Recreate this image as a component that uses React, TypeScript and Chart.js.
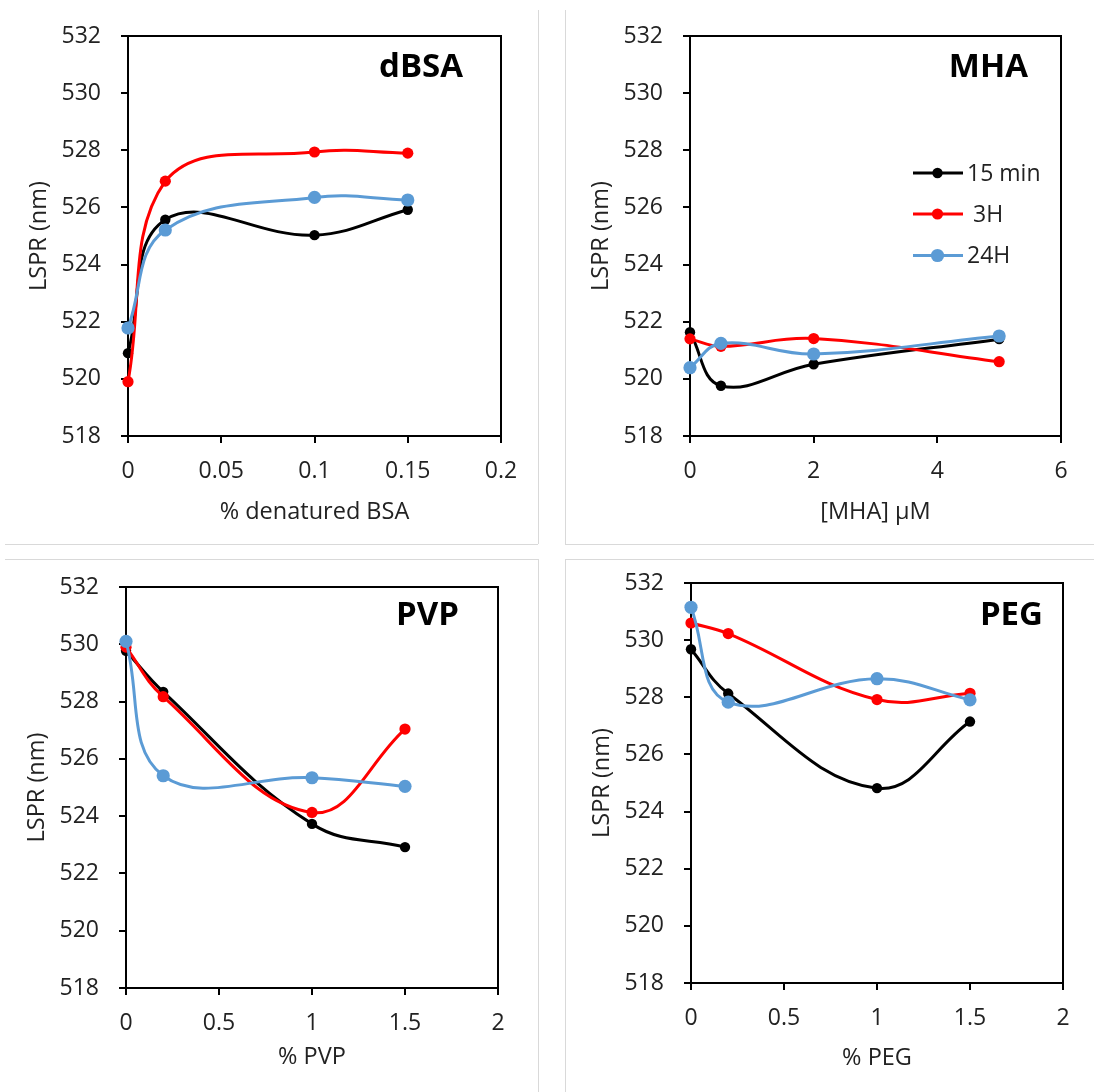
import React, { useEffect, useRef } from "react";
import { Chart, registerables } from "chart.js";

Chart.register(...registerables);

// ---------- data ----------
const seriesLabels = ["15 min", " 3H", "24H"];
const seriesColors = ["#000000", "#ff0000", "#5b9bd5"];
const seriesRadii = [5.2, 5.6, 6.6];

const yTicks = [518, 520, 522, 524, 526, 528, 530, 532];

const dbsaX = [0, 0.02, 0.1, 0.15];
const dbsa15min = [520.9, 525.57, 525.03, 525.92];
const dbsa3H = [519.9, 526.92, 527.94, 527.9];
const dbsa24H = [521.78, 525.21, 526.35, 526.26];
const dbsaTicks = [0, 0.05, 0.1, 0.15, 0.2];

const mhaX = [0, 0.5, 2, 5];
const mha15min = [521.63, 519.76, 520.51, 521.39];
const mha3H = [521.4, 521.14, 521.41, 520.6];
const mha24H = [520.39, 521.24, 520.87, 521.5];
const mhaTicks = [0, 2, 4, 6];

const pvpX = [0, 0.2, 1, 1.5];
const pvp15min = [529.77, 528.34, 523.73, 522.92];
const pvp3H = [529.9, 528.17, 524.13, 527.04];
const pvp24H = [530.1, 525.41, 525.34, 525.04];
const pvpTicks = [0, 0.5, 1, 1.5, 2];

const pegX = [0, 0.2, 1, 1.5];
const peg15min = [529.68, 528.13, 524.82, 527.15];
const peg3H = [530.6, 530.23, 527.92, 528.14];
const peg24H = [531.15, 527.83, 528.65, 527.91];
const pegTicks = [0, 0.5, 1, 1.5, 2];

// ---------- layout ----------
const FONT = "'Open Sans', sans-serif";
const TEXT = "#222222";
const YW = 120;
const PT = 30;
const PR = 30;
const XH = 100;
const TICK_SIZE = 23;
const TITLE_SIZE = 23.5;
const LEGEND_SIZE = 23;
const NAME_SIZE = 33;

type PanelCfg = {
  name: string;
  xTitle: string;
  x: number[];
  series: number[][];
  xTicks: number[];
  rect: [number, number, number, number];
  nameRight: number;
  nameY: number;
  xTitleBelow: number;
  legend: boolean;
};

const panels: PanelCfg[] = [
  { name: "dBSA", xTitle: "% denatured BSA", x: dbsaX, series: [dbsa15min, dbsa3H, dbsa24H], xTicks: dbsaTicks, rect: [128, 36, 501, 436], nameRight: 38, nameY: 32, xTitleBelow: 76, legend: false },
  { name: "MHA", xTitle: "[MHA] µM", x: mhaX, series: [mha15min, mha3H, mha24H], xTicks: mhaTicks, rect: [690, 36, 1061, 436], nameRight: 33, nameY: 32, xTitleBelow: 76, legend: true },
  { name: "PVP", xTitle: "% PVP", x: pvpX, series: [pvp15min, pvp3H, pvp24H], xTicks: pvpTicks, rect: [126, 587, 498, 988], nameRight: 39, nameY: 29, xTitleBelow: 69, legend: false },
  { name: "PEG", xTitle: "% PEG", x: pegX, series: [peg15min, peg3H, peg24H], xTicks: pegTicks, rect: [691, 583, 1063, 983], nameRight: 20, nameY: 33, xTitleBelow: 75, legend: false },
];

const framePlugin = {
  id: "frame",
  beforeDatasetsDraw(chart: any) {
    const { ctx, chartArea: a } = chart;
    ctx.save();
    ctx.strokeStyle = "#000";
    ctx.lineWidth = 2;
    ctx.strokeRect(a.left, a.top, a.right - a.left, a.bottom - a.top);
    ctx.restore();
  },
};

const extrasPlugin = {
  id: "extras",
  afterDatasetsDraw(chart: any, _args: any, opts: any) {
    const { ctx, chartArea: a } = chart;
    ctx.save();
    ctx.fillStyle = "#000";
    ctx.font = `bold ${NAME_SIZE}px ${FONT}`;
    ctx.textAlign = "right";
    ctx.textBaseline = "middle";
    ctx.fillText(opts.name, a.right - opts.nameRight, a.top + opts.nameY);
    if (opts.legend) {
      const rows = [137, 178, 219.5];
      for (let i = 0; i < seriesLabels.length; i++) {
        const y = a.top + rows[i];
        ctx.strokeStyle = seriesColors[i];
        ctx.lineWidth = 3;
        ctx.beginPath();
        ctx.moveTo(a.left + 223, y);
        ctx.lineTo(a.left + 273, y);
        ctx.stroke();
        ctx.fillStyle = seriesColors[i];
        ctx.beginPath();
        ctx.arc(a.left + 247.5, y, seriesRadii[i], 0, Math.PI * 2);
        ctx.fill();
        ctx.fillStyle = TEXT;
        ctx.font = `${LEGEND_SIZE}px ${FONT}`;
        ctx.textAlign = "left";
        ctx.fillText(seriesLabels[i], a.left + 277, y + 1);
      }
    }
    ctx.restore();
  },
};

function Panel({ cfg }: { cfg: PanelCfg }) {
  const ref = useRef<HTMLCanvasElement>(null);
  const [L, T, R, B] = cfg.rect;
  const left = L - YW;
  const top = T - PT;
  const width = R - L + YW + PR;
  const height = B - T + PT + XH;

  useEffect(() => {
    const datasets = cfg.series.map((vals, i) => ({
      label: seriesLabels[i],
      data: cfg.x.map((xv, j) => ({ x: xv, y: vals[j] })),
      borderColor: seriesColors[i],
      backgroundColor: seriesColors[i],
      borderWidth: 3,
      pointRadius: seriesRadii[i],
      pointBorderWidth: 0,
      pointBackgroundColor: seriesColors[i],
      tension: 0.4,
      clip: false as any,
      order: 2 - i,
    }));
    const chart = new Chart(ref.current!, {
      type: "line",
      data: { datasets },
      plugins: [framePlugin, extrasPlugin],
      options: {
        animation: false,
        responsive: false,
        devicePixelRatio: 1,
        layout: { padding: { top: PT, right: PR, left: 0, bottom: 0 } },
        plugins: {
          legend: { display: false },
          tooltip: { enabled: false },
          extras: { name: cfg.name, nameRight: cfg.nameRight, nameY: cfg.nameY, legend: cfg.legend },
        } as any,
        scales: {
          x: {
            type: "linear",
            min: cfg.xTicks[0],
            max: cfg.xTicks[cfg.xTicks.length - 1],
            afterBuildTicks: (s: any) => {
              s.ticks = cfg.xTicks.map((v) => ({ value: v }));
            },
            afterFit: (s: any) => {
              s.height = XH;
              s.paddingLeft = 0;
              s.paddingRight = 0;
            },
            ticks: {
              font: { family: FONT, size: TICK_SIZE },
              color: TEXT,
              padding: 15,
              maxRotation: 0,
              autoSkip: false,
              callback: (v: any) => String(v),
            },
            grid: { drawOnChartArea: false, drawTicks: true, tickLength: 7, color: "#000", lineWidth: 2 },
            border: { display: true, color: "#000", width: 2 },
            title: {
              display: true,
              text: cfg.xTitle,
              font: { family: FONT, size: TITLE_SIZE },
              color: TEXT,
              padding: { top: 0, bottom: XH - cfg.xTitleBelow - (TITLE_SIZE * 1.2) / 2 },
            },
          },
          y: {
            type: "linear",
            min: 518,
            max: 532,
            afterBuildTicks: (s: any) => {
              s.ticks = yTicks.map((v) => ({ value: v }));
            },
            afterFit: (s: any) => {
              s.width = YW;
              s.paddingTop = 0;
              s.paddingBottom = 0;
            },
            ticks: {
              font: { family: FONT, size: TICK_SIZE },
              color: TEXT,
              padding: 20,
              autoSkip: false,
              callback: (v: any) => String(v),
            },
            grid: { drawOnChartArea: false, drawTicks: true, tickLength: 7, color: "#000", lineWidth: 2 },
            border: { display: true, color: "#000", width: 2 },
            title: {
              display: true,
              text: "LSPR (nm)",
              font: { family: FONT, size: TITLE_SIZE },
              color: TEXT,
              padding: { top: 31.5 - (TITLE_SIZE * 1.2) / 2, bottom: 0 },
            },
          },
        },
      } as any,
    });
    return () => chart.destroy();
  }, []);

  return (
    <canvas
      ref={ref}
      width={width}
      height={height}
      style={{ position: "absolute", left, top, width, height }}
    />
  );
}

const lineStyle = (l: number, t: number, w: number, h: number): React.CSSProperties => ({
  position: "absolute",
  left: l,
  top: t,
  width: w,
  height: h,
  background: "#d9d9d9",
});

export default function App() {
  return (
    <div style={{ position: "absolute", left: 0, top: 0, width: 1094, height: 1092, background: "#fff", overflow: "hidden" }}>
      <div style={lineStyle(538, 10, 1, 534)} />
      <div style={lineStyle(565, 10, 1, 534)} />
      <div style={lineStyle(5, 544, 533, 1)} />
      <div style={lineStyle(565, 544, 529, 1)} />
      <div style={lineStyle(5, 559, 533, 1)} />
      <div style={lineStyle(565, 559, 529, 1)} />
      <div style={lineStyle(538, 559, 1, 533)} />
      <div style={lineStyle(565, 559, 1, 533)} />
      {panels.map((p) => (
        <Panel key={p.name} cfg={p} />
      ))}
    </div>
  );
}
